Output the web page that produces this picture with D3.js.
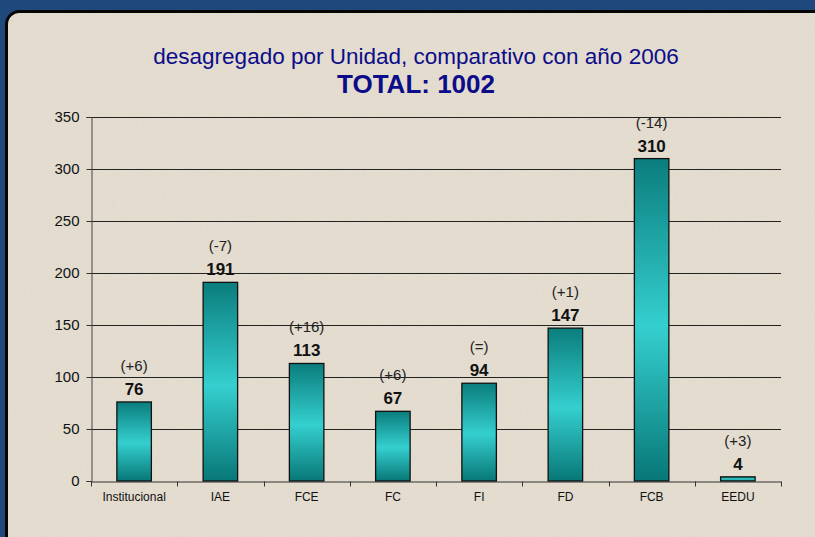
<!DOCTYPE html>
<html lang="es">
  <head>
    <meta charset="utf-8">
    <title>Unidades 2007</title>
    <script src="https://cdnjs.cloudflare.com/ajax/libs/d3/7.8.5/d3.min.js"></script>
    <style>
      html, body { margin: 0; padding: 0; background: #1f497d; }
      #chart { width: 815px; height: 537px; }
      text { font-family: "Liberation Sans", Arial, sans-serif; }
    </style>
  </head>
  <body>
    <div id="chart"></div>
    <script>
      // chart data
      var units = ["Institucional", "IAE", "FCE", "FC", "FI", "FD", "FCB", "EEDU"];
      var totals = [76, 191, 113, 67, 94, 147, 310, 4];
      var changes = ["(+6)", "(-7)", "(+16)", "(+6)", "(=)", "(+1)", "(-14)", "(+3)"];
      var yTicks = [0, 50, 100, 150, 200, 250, 300, 350];
      var subtitle = "desagregado por Unidad, comparativo con año 2006";
      var totalLabel = "TOTAL: 1002";

      var width = 815, height = 537;
      // plot area (note: "top" is a reserved window global, so use m*)
      var mLeft = 91, mRight = 781, mTop = 117, mBottom = 481;

      var svg = d3.select("#chart")
        .append("svg")
        .attr("width", width)
        .attr("height", height);

      var defs = svg.append("defs");

      // bar gradient: dark at top and bottom, light cyan in the middle
      var grad = defs.append("linearGradient")
        .attr("id", "barGrad")
        .attr("x1", 0).attr("y1", 0).attr("x2", 0).attr("y2", 1);
      grad.append("stop").attr("offset", "0%").attr("stop-color", "#0b7d7d");
      grad.append("stop").attr("offset", "52%").attr("stop-color", "#35cfcf");
      grad.append("stop").attr("offset", "100%").attr("stop-color", "#087777");

      // paper-like speckle texture (light, sparse)
      var noise = defs.append("filter").attr("id", "paper")
        .attr("x", 0).attr("y", 0).attr("width", "100%").attr("height", "100%");
      noise.append("feTurbulence")
        .attr("type", "fractalNoise")
        .attr("baseFrequency", 0.5)
        .attr("numOctaves", 2)
        .attr("seed", 7)
        .attr("result", "n");
      noise.append("feColorMatrix")
        .attr("in", "n")
        .attr("type", "matrix")
        .attr("values", "0 0 0 0 0.70  0 0 0 0 0.67  0 0 0 0 0.62  0 0 0 -2.6 1.05")
        .attr("result", "spk");
      noise.append("feComposite").attr("in", "spk").attr("in2", "SourceGraphic").attr("operator", "in").attr("result", "s2");
      noise.append("feMerge").selectAll("feMergeNode")
        .data(["SourceGraphic", "s2"]).enter()
        .append("feMergeNode").attr("in", function (d) { return d; });

      // background panel: textured fill, then a clean border on top
      svg.append("rect")
        .attr("x", 6.5).attr("y", 11.5)
        .attr("width", 840).attr("height", 560)
        .attr("rx", 13)
        .attr("fill", "#e3dccf")
        .attr("filter", "url(#paper)");

      svg.append("rect")
        .attr("x", 6.5).attr("y", 11.5)
        .attr("width", 840).attr("height", 560)
        .attr("rx", 13)
        .attr("fill", "none")
        .attr("stroke", "#050505")
        .attr("stroke-width", 3);

      // titles
      svg.append("text")
        .attr("x", 416).attr("y", 64)
        .attr("text-anchor", "middle")
        .style("font-size", "22.5px")
        .attr("fill", "#0c0c8a")
        .text(subtitle);

      svg.append("text")
        .attr("x", 416).attr("y", 93)
        .attr("text-anchor", "middle")
        .style("font-size", "26px")
        .style("font-weight", "bold")
        .attr("fill", "#0c0c8a")
        .text(totalLabel);

      // scales
      var x = d3.scaleBand()
        .domain(units)
        .range([mLeft, mRight])
        .paddingInner(0.6)
        .paddingOuter(0.3);

      var y = d3.scaleLinear()
        .domain([0, 350])
        .range([mBottom, mTop]);

      // gridlines
      svg.append("g")
        .selectAll("line")
        .data(yTicks.slice(1))
        .enter()
        .append("line")
          .attr("x1", mLeft).attr("x2", mRight)
          .attr("y1", function (d) { return Math.round(y(d)) + 0.5; })
          .attr("y2", function (d) { return Math.round(y(d)) + 0.5; })
          .attr("stroke", "#222")
          .attr("stroke-width", 1);

      // y axis
      var yAxis = d3.axisLeft(y).tickValues(yTicks).tickSize(5).tickPadding(7);
      var gy = svg.append("g")
        .attr("transform", "translate(" + (mLeft + 0.5) + ",0)")
        .call(yAxis);
      gy.selectAll("text").style("font-size", "15px").attr("fill", "#111");
      gy.selectAll("line").attr("stroke", "#333");
      gy.select(".domain").attr("stroke", "#444");

      // x axis: labels at band centres, ticks at band boundaries
      var xAxis = d3.axisBottom(x).tickSize(0).tickPadding(11);
      var gx = svg.append("g")
        .attr("transform", "translate(0," + (mBottom + 0.5) + ")")
        .call(xAxis);
      gx.selectAll("text").style("font-size", "12px").attr("fill", "#111");
      gx.select(".domain").attr("stroke", "#333");

      var bounds = units.map(function (u) { return x(u) - x.step() * x.paddingInner() / 2; });
      bounds.push(mRight);
      bounds[0] = mLeft;
      gx.selectAll(".bound")
        .data(bounds)
        .enter()
        .append("line")
          .attr("class", "bound")
          .attr("x1", function (d) { return Math.round(d) + 0.5; })
          .attr("x2", function (d) { return Math.round(d) + 0.5; })
          .attr("y1", 0).attr("y2", 5)
          .attr("stroke", "#333");

      // bars
      var rows = units.map(function (u, i) {
        return { unit: u, total: totals[i], change: changes[i] };
      });

      svg.selectAll(".bar")
        .data(rows)
        .enter()
        .append("rect")
          .attr("class", "bar")
          .attr("x", function (d) { return x(d.unit); })
          .attr("y", function (d) { return y(d.total); })
          .attr("width", x.bandwidth())
          .attr("height", function (d) { return y(0) - y(d.total); })
          .attr("fill", "url(#barGrad)")
          .attr("stroke", "#111")
          .attr("stroke-width", 1.3);

      // value labels
      svg.selectAll(".val")
        .data(rows)
        .enter()
        .append("text")
          .attr("class", "val")
          .attr("x", function (d) { return x(d.unit) + x.bandwidth() / 2; })
          .attr("y", function (d) { return y(d.total) - 7; })
          .attr("text-anchor", "middle")
          .style("font-size", "17px")
          .style("font-weight", "bold")
          .attr("fill", "#111")
          .text(function (d) { return d.total; });

      // change vs 2006
      svg.selectAll(".chg")
        .data(rows)
        .enter()
        .append("text")
          .attr("class", "chg")
          .attr("x", function (d) { return x(d.unit) + x.bandwidth() / 2; })
          .attr("y", function (d) { return y(d.total) - 31; })
          .attr("text-anchor", "middle")
          .style("font-size", "15px")
          .attr("fill", "#222")
          .text(function (d) { return d.change; });
    </script>
  </body>
</html>
